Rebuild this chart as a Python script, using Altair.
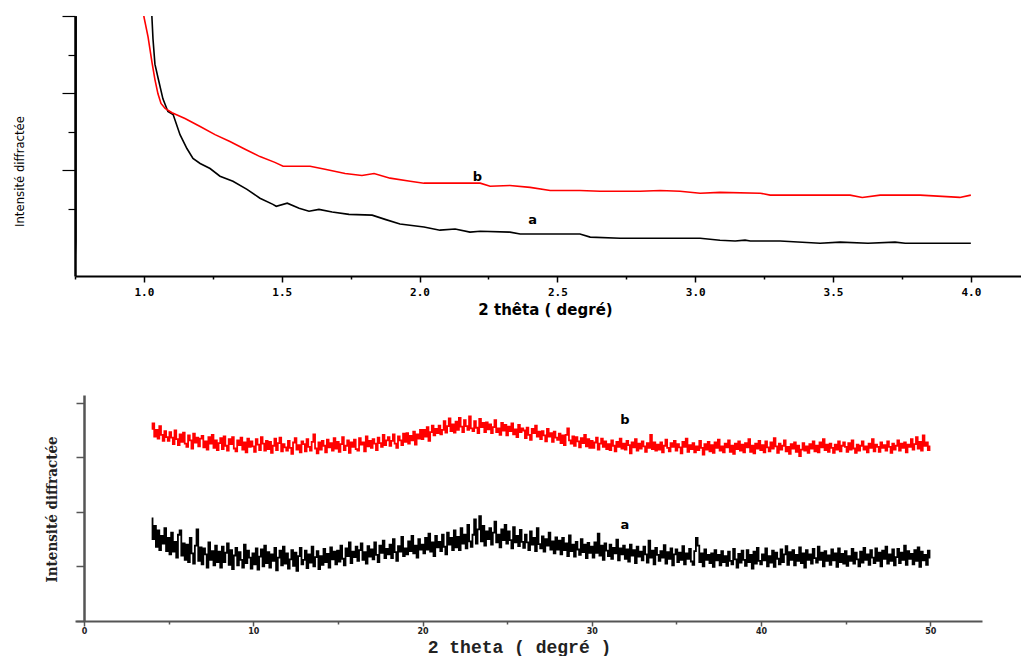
import altair as alt
import numpy as np
import pandas as pd

# ---------------- top panel (low angle) ----------------
top_red_x = [0.99, 1.0, 1.015, 1.029, 1.04, 1.051, 1.062, 1.077, 1.102, 1.149, 1.204, 1.258,
             1.312, 1.367, 1.421, 1.475, 1.505, 1.603, 1.657, 1.73, 1.791, 1.835, 1.893, 1.966,
             2.016, 2.22, 2.256, 2.328, 2.401, 2.474, 2.582, 2.655, 2.80, 2.873, 2.945, 3.018,
             3.09, 3.236, 3.272, 3.562, 3.606, 3.671, 3.816, 3.96, 4.0]
top_red_y = [20, 5.98, 5.46, 4.81, 4.35, 3.98, 3.73, 3.60, 3.49, 3.34, 3.13, 2.92,
             2.74, 2.54, 2.35, 2.20, 2.10, 2.10, 2.02, 1.91, 1.86, 1.91, 1.79, 1.71,
             1.66, 1.66, 1.58, 1.60, 1.55, 1.47, 1.47, 1.45, 1.45, 1.47, 1.45, 1.40,
             1.42, 1.40, 1.35, 1.35, 1.29, 1.35, 1.35, 1.29, 1.35]

top_black_x = [0.75, 0.751, 0.753, 0.756, 1.0, 1.029, 1.033, 1.04, 1.052, 1.069, 1.087, 1.106,
               1.131, 1.156, 1.178, 1.204, 1.24, 1.276, 1.323, 1.374, 1.421, 1.468, 1.48,
               1.52, 1.563, 1.599, 1.635, 1.683, 1.744, 1.828, 1.875, 1.929, 2.016, 2.074,
               2.129, 2.183, 2.22, 2.328, 2.365, 2.582, 2.619, 2.728, 3.018, 3.09, 3.145,
               3.181, 3.2, 3.308, 3.453, 3.526, 3.627, 3.725, 3.762, 4.0]
top_black_y = [-0.75, -0.2, 0.15, 20, 20, 5.98, 5.4, 4.75, 4.37, 3.85, 3.52, 3.44,
               2.92, 2.56, 2.30, 2.17, 2.04, 1.84, 1.71, 1.50, 1.27, 1.11, 1.06,
               1.14, 1.01, 0.93, 0.98, 0.91, 0.85, 0.83, 0.72, 0.60, 0.52, 0.44,
               0.47, 0.39, 0.41, 0.39, 0.34, 0.34, 0.26, 0.23, 0.23, 0.18, 0.16,
               0.18, 0.16, 0.16, 0.10, 0.13, 0.10, 0.13, 0.10, 0.10]

top_x_ticks = [0.75, 1.0, 1.25, 1.5, 1.75, 2.0, 2.25, 2.5, 2.75, 3.0, 3.25, 3.5, 3.75, 4.0]
top_y_ticks = [1, 2, 3, 4, 5, 6]
top_labels = ["b", "a"]
top_label_x = [2.21, 2.41]
top_label_y = [1.82, 0.70]

# ---------------- bottom panel (wide angle) ----------------
wide_x = np.round(np.arange(4.0, 50.001, 0.1), 1)
wide_red = [
    3.52, 3.62, 3.38, 3.50, 3.34, 3.57, 3.41, 3.30, 3.48, 3.37,
    3.30, 3.46, 3.36, 3.24, 3.49, 3.33, 3.22, 3.42, 3.28, 3.45,
    3.25, 3.19, 3.40, 3.31, 3.16, 3.43, 3.27, 3.36, 3.20, 3.34,
    3.39, 3.18, 3.29, 3.14, 3.37, 3.25, 3.41, 3.17, 3.31, 3.13,
    3.26, 3.35, 3.15, 3.38, 3.21, 3.12, 3.33, 3.24, 3.37, 3.16,
    3.11, 3.31, 3.22, 3.36, 3.14, 3.27, 3.09, 3.34, 3.19, 3.29,
    3.20, 3.10, 3.33, 3.23, 3.13, 3.37, 3.25, 3.12, 3.30, 3.15,
    3.28, 3.08, 3.21, 3.34, 3.13, 3.26, 3.36, 3.11, 3.24, 3.18,
    3.12, 3.30, 3.17, 3.06, 3.27, 3.35, 3.14, 3.22, 3.09, 3.29,
    3.24, 3.11, 3.33, 3.19, 3.12, 3.28, 3.42, 3.16, 3.07, 3.27,
    3.14, 3.30, 3.21, 3.09, 3.32, 3.18, 3.26, 3.12, 3.35, 3.16,
    3.28, 3.10, 3.24, 3.37, 3.13, 3.21, 3.31, 3.08, 3.27, 3.19,
    3.32, 3.15, 3.12, 3.35, 3.23, 3.27, 3.11, 3.38, 3.20, 3.30,
    3.17, 3.33, 3.25, 3.13, 3.36, 3.26, 3.19, 3.41, 3.22, 3.31,
    3.37, 3.21, 3.30, 3.42, 3.25, 3.17, 3.38, 3.31, 3.22, 3.43,
    3.28, 3.44, 3.25, 3.39, 3.31, 3.47, 3.23, 3.42, 3.34, 3.50,
    3.33, 3.50, 3.38, 3.55, 3.30, 3.46, 3.58, 3.40, 3.52, 3.44,
    3.58, 3.42, 3.50, 3.66, 3.45, 3.57, 3.71, 3.48, 3.60, 3.45,
    3.65, 3.50, 3.72, 3.56, 3.46, 3.68, 3.57, 3.50, 3.75, 3.53,
    3.48, 3.66, 3.54, 3.44, 3.70, 3.55, 3.63, 3.46, 3.64, 3.51,
    3.60, 3.44, 3.55, 3.68, 3.46, 3.53, 3.41, 3.63, 3.49, 3.59,
    3.40, 3.56, 3.48, 3.62, 3.42, 3.51, 3.37, 3.59, 3.46, 3.53,
    3.49, 3.35, 3.54, 3.41, 3.32, 3.52, 3.44, 3.58, 3.38, 3.47,
    3.33, 3.48, 3.40, 3.29, 3.52, 3.38, 3.44, 3.28, 3.47, 3.36,
    3.32, 3.43, 3.26, 3.40, 3.22, 3.41, 3.53, 3.31, 3.25, 3.38,
    3.21, 3.37, 3.29, 3.18, 3.35, 3.26, 3.41, 3.20, 3.33, 3.17,
    3.30, 3.17, 3.27, 3.36, 3.14, 3.25, 3.34, 3.19, 3.29, 3.15,
    3.24, 3.13, 3.31, 3.21, 3.11, 3.28, 3.19, 3.34, 3.16, 3.25,
    3.14, 3.30, 3.22, 3.07, 3.27, 3.18, 3.33, 3.12, 3.25, 3.16,
    3.29, 3.20, 3.10, 3.26, 3.17, 3.41, 3.15, 3.27, 3.12, 3.23,
    3.14, 3.27, 3.09, 3.21, 3.32, 3.17, 3.11, 3.26, 3.19, 3.30,
    3.12, 3.24, 3.18, 3.07, 3.28, 3.19, 3.34, 3.10, 3.22, 3.15,
    3.26, 3.09, 3.20, 3.13, 3.30, 3.17, 3.05, 3.24, 3.14, 3.28,
    3.11, 3.22, 3.08, 3.27, 3.17, 3.32, 3.12, 3.20, 3.09, 3.25,
    3.18, 3.31, 3.10, 3.21, 3.06, 3.25, 3.15, 3.29, 3.12, 3.23,
    3.09, 3.26, 3.18, 3.33, 3.10, 3.21, 3.07, 3.25, 3.16, 3.30,
    3.13, 3.22, 3.09, 3.29, 3.18, 3.11, 3.27, 3.16, 3.35, 3.20,
    3.08, 3.25, 3.14, 3.21, 3.31, 3.11, 3.19, 3.06, 3.24, 3.16,
    3.27, 3.10, 3.21, 3.02, 3.14, 3.26, 3.12, 3.20, 3.08, 3.24,
    3.16, 3.29, 3.11, 3.21, 3.09, 3.27, 3.18, 3.33, 3.13, 3.23,
    3.10, 3.25, 3.17, 3.08, 3.23, 3.14, 3.29, 3.11, 3.21, 3.27,
    3.19, 3.10, 3.26, 3.14, 3.31, 3.16, 3.08, 3.23, 3.12, 3.21,
    3.29, 3.14, 3.20, 3.09, 3.25, 3.17, 3.33, 3.11, 3.23, 3.19,
    3.10, 3.27, 3.17, 3.22, 3.12, 3.29, 3.19, 3.08, 3.25, 3.14,
    3.21, 3.31, 3.12, 3.25, 3.17, 3.27, 3.09, 3.23, 3.19, 3.33,
    3.14, 3.24, 3.37, 3.16, 3.28, 3.12, 3.40, 3.21, 3.27, 3.13,
    3.20,
]
wide_black = [
    1.88, 1.50, 1.74, 1.36, 1.66, 1.30, 1.56, 1.42, 1.70, 1.28,
    1.52, 1.22, 1.62, 1.27, 1.45, 1.16, 1.58, 1.66, 1.20, 1.42,
    1.12, 1.40, 1.08, 1.52, 1.24, 1.05, 1.38, 1.68, 1.10, 1.35,
    1.04, 1.33, 1.22, 0.98, 1.44, 1.12, 1.28, 1.02, 1.38, 1.08,
    1.27, 0.98, 1.36, 1.08, 1.25, 1.42, 1.03, 1.30, 0.95, 1.20,
    1.34, 1.02, 1.26, 1.12, 0.98, 1.40, 1.06, 1.29, 1.16, 0.96,
    1.24, 1.04, 1.33, 0.94, 1.18, 1.31, 1.00, 1.38, 1.06, 1.26,
    0.98, 1.22, 1.10, 1.34, 0.93, 1.16, 1.29, 1.02, 1.36, 1.05,
    1.24, 0.96, 1.13, 1.30, 1.01, 1.25, 0.92, 1.19, 1.34, 1.04,
    1.12, 1.29, 0.97, 1.22, 1.07, 1.36, 1.00, 1.17, 1.28, 0.95,
    1.19, 1.03, 1.32, 1.08, 1.23, 0.98, 1.35, 1.13, 1.27, 1.04,
    1.29, 1.09, 1.38, 1.14, 1.02, 1.33, 1.19, 1.44, 1.06, 1.27,
    1.17, 1.36, 1.10, 1.30, 1.42, 1.12, 1.26, 1.05, 1.37, 1.18,
    1.31, 1.13, 1.44, 1.21, 1.08, 1.38, 1.25, 1.47, 1.15, 1.32,
    1.22, 1.40, 1.15, 1.50, 1.26, 1.10, 1.37, 1.27, 1.54, 1.19,
    1.33, 1.22, 1.46, 1.28, 1.56, 1.24, 1.38, 1.16, 1.50, 1.31,
    1.40, 1.24, 1.52, 1.31, 1.60, 1.27, 1.44, 1.19, 1.56, 1.35,
    1.45, 1.28, 1.58, 1.36, 1.22, 1.62, 1.40, 1.52, 1.30, 1.66,
    1.35, 1.54, 1.30, 1.70, 1.42, 1.58, 1.33, 1.76, 1.46, 1.36,
    1.58, 1.86, 1.42, 1.68, 1.92, 1.46, 1.74, 1.38, 1.64, 1.50,
    1.70, 1.40, 1.62, 1.82, 1.44, 1.58, 1.35, 1.68, 1.48, 1.76,
    1.42, 1.64, 1.48, 1.33, 1.72, 1.44, 1.56, 1.37, 1.67, 1.45,
    1.34, 1.58, 1.44, 1.30, 1.64, 1.40, 1.52, 1.28, 1.70, 1.41,
    1.33, 1.55, 1.27, 1.50, 1.38, 1.62, 1.31, 1.46, 1.24, 1.53,
    1.31, 1.47, 1.22, 1.52, 1.30, 1.42, 1.19, 1.57, 1.28, 1.40,
    1.18, 1.45, 1.31, 1.21, 1.50, 1.26, 1.40, 1.15, 1.43, 1.25,
    1.36, 1.16, 1.44, 1.25, 1.60, 1.20, 1.38, 1.12, 1.42, 1.29,
    1.19, 1.40, 1.14, 1.34, 1.24, 1.49, 1.11, 1.33, 1.22, 1.38,
    1.14, 1.31, 1.09, 1.40, 1.20, 1.30, 1.06, 1.36, 1.18, 1.27,
    1.11, 1.36, 1.22, 1.07, 1.47, 1.16, 1.29, 1.04, 1.34, 1.21,
    1.10, 1.28, 1.16, 1.39, 1.05, 1.26, 1.14, 1.33, 1.02, 1.22,
    1.31, 1.08, 1.25, 1.12, 1.37, 1.04, 1.24, 1.14, 1.32, 1.09,
    1.03, 1.28, 1.52, 1.38, 1.08, 1.24, 1.00, 1.31, 1.12, 1.21,
    1.06, 1.24, 0.99, 1.30, 1.11, 1.21, 1.02, 1.28, 1.08, 1.19,
    1.01, 1.27, 1.10, 1.04, 1.32, 1.13, 0.98, 1.23, 1.07, 1.29,
    1.12, 1.01, 1.30, 1.08, 1.21, 0.96, 1.27, 1.05, 1.34, 1.10,
    1.04, 1.22, 1.11, 1.33, 1.00, 1.19, 1.07, 1.29, 0.99, 1.25,
    1.14, 1.04, 1.31, 1.08, 1.22, 1.37, 1.03, 1.26, 1.12, 1.30,
    1.02, 1.21, 1.10, 1.35, 1.06, 1.24, 0.98, 1.30, 1.12, 1.22,
    1.05, 1.32, 1.15, 1.07, 1.36, 1.12, 1.25, 1.00, 1.28, 1.10,
    1.20, 1.03, 1.31, 1.11, 1.24, 0.99, 1.33, 1.08, 1.23, 1.05,
    1.28, 1.01, 1.19, 1.10, 1.32, 1.05, 1.25, 1.13, 1.00, 1.27,
    1.07, 1.34, 1.12, 1.22, 1.03, 1.30, 1.16, 1.06, 1.33, 1.10,
    1.25, 1.00, 1.29, 1.14, 1.36, 1.05, 1.22, 1.10, 1.31, 1.02,
    1.17, 1.32, 1.06, 1.25, 1.12, 1.38, 1.03, 1.28, 1.14, 1.23,
    1.04, 1.30, 1.10, 1.35, 0.99, 1.27, 1.11, 1.21, 1.03, 1.29,
    1.16,
]
wide_x_ticks = [0, 5, 10, 15, 20, 25, 30, 35, 40, 45, 50]
wide_y_ticks = [0, 1, 2, 3, 4]
wide_labels = ["b", "a"]
wide_label_x = [31.95, 31.95]
wide_label_y = [3.68, 1.76]

series_domain = ["a", "b"]
series_colors = ["#000000", "#ff0000"]

# ---------------- tables ----------------
top_df = pd.concat([
    pd.DataFrame({"t": top_black_x, "i": top_black_y, "s": "a", "o": range(len(top_black_x))}),
    pd.DataFrame({"t": top_red_x, "i": top_red_y, "s": "b", "o": range(len(top_red_x))}),
])
top_lab_df = pd.DataFrame({"t": top_label_x, "i": top_label_y, "txt": top_labels})

wide_df = pd.concat([
    pd.DataFrame({"t": wide_x, "i": wide_black, "s": "a"}),
    pd.DataFrame({"t": wide_x, "i": wide_red, "s": "b"}),
])
wide_lab_df = pd.DataFrame({"t": wide_label_x, "i": wide_label_y, "txt": wide_labels})

color = alt.Color("s:N", scale=alt.Scale(domain=series_domain, range=series_colors), legend=None)
no_frame = alt.ViewBackground(strokeWidth=0, stroke="transparent")

# ---------------- top chart ----------------
top_xs = alt.Scale(domain=[0.75, 4.182], nice=False, zero=False)
top_ys = alt.Scale(domain=[-0.75, 6.0], nice=False, zero=False)

top_x_axis = alt.Axis(
    values=top_x_ticks,
    labelExpr="round(datum.value*4) % 2 == 0 && datum.value >= 1 ? format(datum.value, '.1f') : ''",
    tickSize={"condition": {"test": "round(datum.value*4) % 2 == 0", "value": 6}, "value": 3},
    title="2 thêta ( degré)", titleFont="DejaVu Sans", titleFontWeight="bold", titleFontSize=15,
    titleY=33, titleX=470, titleBaseline="middle", titleColor="black",
    labelFont="DejaVu Sans Mono", labelFontWeight="bold", labelFontSize=11, labelPadding=4,
    labelColor="black", domainColor="black", domainWidth=2, tickColor="black", tickWidth=1.5,
    grid=False, labelFlush=False, labelOverlap=False,
)
top_y_axis = alt.Axis(
    values=top_y_ticks, labels=False,
    tickSize={"condition": {"test": "datum.value % 2 == 0", "value": 13}, "value": 7},
    title="Intensité diffractée", titleFont="Liberation Sans Narrow, DejaVu Sans Condensed, sans-serif",
    titleFontWeight="normal", titleFontSize=13, titleX=-56, titleY=155, titleBaseline="middle",
    titleAngle=270, titleColor="black",
    domainColor="black", domainWidth=2.5, tickColor="black", tickWidth=1.2, grid=False,
)

top_lines = alt.Chart(top_df).mark_line(strokeWidth=1.6, clip=True).encode(
    x=alt.X("t:Q", scale=top_xs, axis=top_x_axis),
    y=alt.Y("i:Q", scale=top_ys, axis=top_y_axis),
    color=color,
    order="o:Q",
    detail="s:N",
)
top_text = alt.Chart(top_lab_df).mark_text(font="DejaVu Sans", fontWeight="bold", fontSize=13, color="black").encode(
    x=alt.X("t:Q", scale=top_xs), y=alt.Y("i:Q", scale=top_ys), text="txt:N"
)
top = alt.layer(top_lines, top_text).properties(width=946, height=260, view=no_frame)

# ---------------- bottom chart ----------------
wide_xs = alt.Scale(domain=[-0.53, 53.05], nice=False, zero=False)
wide_ys = alt.Scale(domain=[0, 4.14], nice=False, zero=False)

wide_x_axis = alt.Axis(
    values=wide_x_ticks,
    labelExpr="datum.value % 10 == 0 ? format(datum.value, 'd') : ''",
    tickSize={"condition": {"test": "datum.value % 10 == 0", "value": 5}, "value": 3},
    title="2 theta ( degré )", titleFont="Liberation Mono, DejaVu Sans Mono, monospace",
    titleFontWeight="bold", titleFontSize=18,
    titleY=26, titleX=444, titleBaseline="middle", titleColor="#222",
    labelFont="DejaVu Sans", labelFontWeight="bold", labelFontSize=8, labelPadding=1, labelColor="#222",
    domainColor="#555", domainWidth=2, tickColor="#555", tickWidth=1.5, grid=False,
    labelFlush=False, labelOverlap=False,
)
wide_y_axis = alt.Axis(
    values=wide_y_ticks, labels=False, tickSize=8, offset=-9,
    title="Intensité diffractée", titleFont="DejaVu Serif Condensed, DejaVu Serif, serif",
    titleFontWeight="bold", titleFontSize=15, titleX=-33, titleY=114, titleBaseline="middle",
    titleAngle=270, titleColor="#222",
    domainColor="#555", domainWidth=2.5, tickColor="#555", tickWidth=1.5, grid=False,
)

wide_lines = alt.Chart(wide_df).mark_line(strokeWidth=1.8, interpolate="step", clip=True).encode(
    x=alt.X("t:Q", scale=wide_xs, axis=wide_x_axis),
    y=alt.Y("i:Q", scale=wide_ys, axis=wide_y_axis),
    color=color,
    detail="s:N",
)
wide_text = alt.Chart(wide_lab_df).mark_text(font="DejaVu Sans", fontWeight="bold", fontSize=13, color="black").encode(
    x=alt.X("t:Q", scale=wide_xs), y=alt.Y("i:Q", scale=wide_ys), text="txt:N"
)
bottom = alt.layer(wide_lines, wide_text).properties(width=907, height=226, view=no_frame)

chart = (
    alt.vconcat(top, bottom, spacing=78)
    .properties(padding={"left": 5, "top": 7, "right": 0, "bottom": 0}, background="white")
    .configure_view(strokeWidth=0, stroke="transparent")
)

chart.save("out.html", embed_options={"renderer": "svg", "actions": False})
